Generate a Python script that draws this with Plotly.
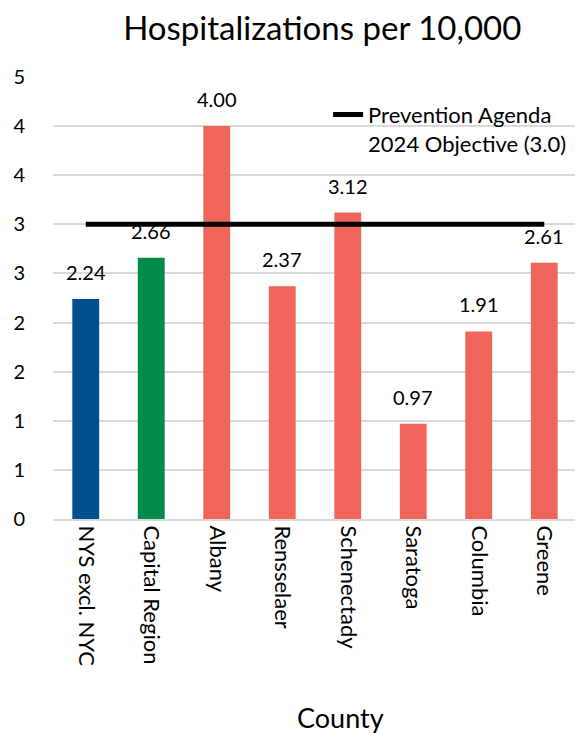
import plotly.graph_objects as go

# data
counties = ["NYS excl. NYC", "Capital Region", "Albany", "Rensselaer",
            "Schenectady", "Saratoga", "Columbia", "Greene"]
rates = [2.24, 2.66, 4.00, 2.37, 3.12, 0.97, 1.91, 2.61]
objective = [3.0] * len(counties)
ytick_vals = [0, 0.5, 1, 1.5, 2, 2.5, 3, 3.5, 4, 4.5]
ytick_text = ["0", "1", "1", "2", "2", "3", "3", "4", "4", "5"]

bar_colors = ["#00508f", "#008c48"] + ["#f0655a"] * 6
font = "Lato, 'Open Sans', sans-serif"

fig = go.Figure()
fig.add_trace(go.Bar(
    x=counties, y=rates,
    marker=dict(color=bar_colors, line=dict(width=0)),
    showlegend=False,
))
fig.add_trace(go.Scatter(
    x=counties, y=objective, mode="lines",
    line=dict(color="black", width=5),
    name="Prevention Agenda<br>2024 Objective (3.0)",
))

# value labels sit a bit above each bar, like the Excel original
for c, r in zip(counties, rates):
    fig.add_annotation(x=c, y=r, text=f"{r:.2f}", showarrow=False,
                       yanchor="middle", yshift=27,
                       font=dict(size=20, color="black"))

# axis title, placed off-centre as in the original
fig.add_annotation(x=0.548, y=-0.45, xref="paper", yref="paper",
                   text="County", showarrow=False, yanchor="middle",
                   font=dict(size=27, color="black"))

fig.update_layout(
    width=583, height=734,
    margin=dict(l=45, r=14, t=69, b=223),
    paper_bgcolor="white", plot_bgcolor="white",
    font=dict(family=font, size=20, color="black"),
    title=dict(text="Hospitalizations per 10,000", x=0.539, xanchor="center",
               y=0.972, yanchor="middle", font=dict(size=33)),
    bargap=0.59,
    legend=dict(x=0.525, xanchor="left", y=0.962, yanchor="top",
                bgcolor="rgba(0,0,0,0)", font=dict(size=22), valign="top",
                itemwidth=30, tracegroupgap=0),
    xaxis=dict(tickangle=90, showline=True, linecolor="#d9d9d9", linewidth=2,
               ticks="", showgrid=False, automargin=False,
               tickfont=dict(size=22)),
    yaxis=dict(range=[0, 4.5], tickvals=ytick_vals, ticktext=ytick_text,
               showgrid=True, gridcolor="#d9d9d9", gridwidth=1.5,
               zeroline=False, ticks="", ticklabelstandoff=27,
               automargin=False),
)

fig.write_html("out.html")
